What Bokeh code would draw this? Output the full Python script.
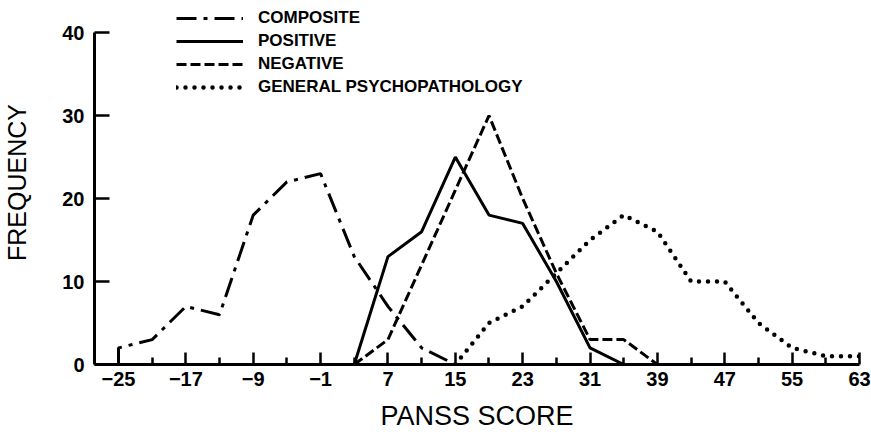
from bokeh.plotting import figure
from bokeh.models import Range1d, FixedTicker, Legend, LegendItem
from bokeh.embed import file_html
from bokeh.resources import INLINE

# ---- data ----
composite_x = [-25, -25, -21, -17, -13, -9, -5, -1, 3, 7, 11, 15]
composite_y = [0, 2, 3, 7, 6, 18, 22, 23, 13, 7, 2, 0]

positive_x = [3, 7, 11, 15, 19, 23, 27, 31, 35]
positive_y = [0, 13, 16, 25, 18, 17, 10, 2, 0]

negative_x = [3, 7, 11, 15, 19, 23, 27, 31, 35, 39]
negative_y = [0, 3, 12, 21, 30, 20, 11, 3, 3, 0]

general_x = [15, 19, 23, 27, 31, 35, 39, 43, 47, 51, 55, 59, 63]
general_y = [0, 5, 7, 11, 15, 18, 16, 10, 10, 5, 2, 1, 1]

x_major_ticks = [-25, -17, -9, -1, 7, 15, 23, 31, 39, 47, 55, 63]
x_tick_labels = ["\u221225", "\u221217", "\u22129", "\u22121", "7", "15", "23", "31", "39", "47", "55", "63"]
x_minor_ticks = [-21, -13, -5, 3, 11, 19, 27, 35, 43, 51, 59]
y_ticks = [0, 10, 20, 30, 40]
y_tick_labels = ["0", "10", "20", "30", "40"]

series_names = ["COMPOSITE", "POSITIVE", "NEGATIVE", "GENERAL PSYCHOPATHOLOGY"]
x_title = "PANSS SCORE"
y_title = "FREQUENCY"

FONT = "Liberation Sans"

p = figure(width=871, height=437, output_backend="svg", toolbar_location=None,
           x_range=Range1d(-27.85, 63), y_range=Range1d(0, 43.86),
           min_border_left=93, min_border_right=12, min_border_top=0,
           min_border_bottom=73)
p.outline_line_color = None
p.xgrid.visible = False
p.ygrid.visible = False
p.background_fill_color = "white"

r_comp = p.line(composite_x, composite_y, line_color="black", line_width=3,
                line_dash="20 7 4 7")
r_pos = p.line(positive_x, positive_y, line_color="black", line_width=3)
r_neg = p.line(negative_x, negative_y, line_color="black", line_width=3,
               line_dash="10 4")
r_gen = p.line(general_x, general_y, line_color="black", line_width=4.5,
               line_dash="0 9", line_cap="round")

# axes
xa = p.xaxis[0]
xa.ticker = FixedTicker(ticks=x_major_ticks, minor_ticks=x_minor_ticks)
xa.major_label_overrides = {t: l for t, l in zip(x_major_ticks, x_tick_labels)}
xa.axis_line_width = 3
xa.major_tick_line_width = 2.5
xa.minor_tick_line_width = 2.5
xa.major_tick_in = 12
xa.major_tick_out = 0
xa.minor_tick_in = 7
xa.minor_tick_out = 0
xa.major_label_standoff = 7
xa.major_label_text_font = FONT
xa.major_label_text_font_style = "bold"
xa.major_label_text_font_size = "20px"
xa.major_label_text_color = "black"
xa.axis_label = x_title
xa.axis_label_text_font = FONT
xa.axis_label_text_font_style = "normal"
xa.axis_label_text_font_size = "27px"
xa.axis_label_text_color = "black"
xa.axis_label_standoff = 12

ya = p.yaxis[0]
ya.ticker = FixedTicker(ticks=y_ticks, minor_ticks=[])
ya.major_label_overrides = {t: l for t, l in zip(y_ticks, y_tick_labels)}
ya.bounds = (0, 40)
ya.axis_line_width = 3
ya.major_tick_line_width = 2.5
ya.major_tick_in = 15
ya.major_tick_out = 0
ya.major_label_standoff = 10
ya.major_label_text_font = FONT
ya.major_label_text_font_style = "bold"
ya.major_label_text_font_size = "20px"
ya.major_label_text_color = "black"
ya.axis_label = y_title
ya.axis_label_text_font = FONT
ya.axis_label_text_font_style = "normal"
ya.axis_label_text_font_size = "25px"
ya.axis_label_text_color = "black"
ya.axis_label_standoff = 28

legend = Legend(items=[LegendItem(label=n, renderers=[r]) for n, r in
                       zip(series_names, [r_comp, r_pos, r_neg, r_gen])],
                location=(82, 267), orientation="vertical",
                glyph_width=67, glyph_height=20, label_height=20, spacing=3,
                label_standoff=15, padding=0, margin=0,
                border_line_color=None, background_fill_alpha=0,
                label_text_font=FONT, label_text_font_style="bold",
                label_text_font_size="17px", label_text_color="black")
p.add_layout(legend)

open("out.html", "w").write(file_html(p, INLINE))
